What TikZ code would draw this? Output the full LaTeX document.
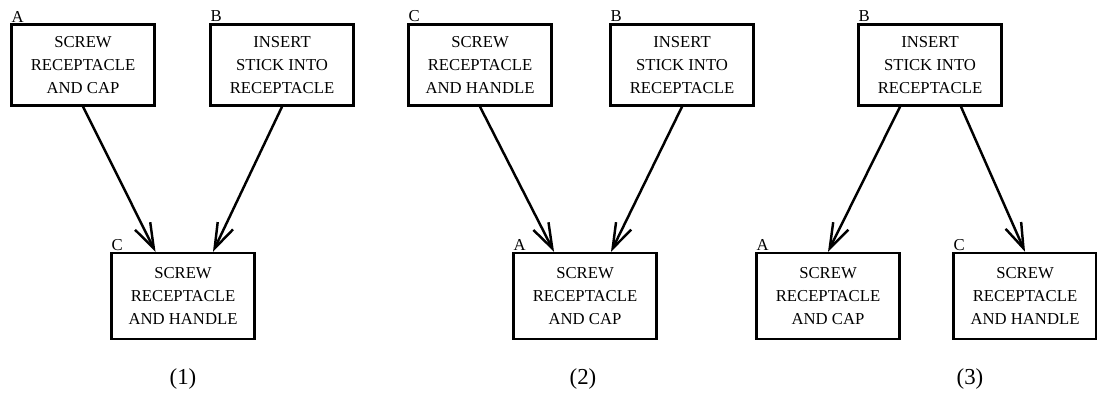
\documentclass[tikz,border=0pt]{standalone}
\usepackage{fontspec}
\setmainfont{Liberation Serif}
\usetikzlibrary{arrows.meta, positioning}

\begin{document}
\begin{tikzpicture}[
    x=0.02cm, y=-0.02cm,
    task/.style={draw, line width=1.4pt, align=center, inner sep=1pt,
                 minimum width=2.86cm, minimum height=1.62cm,
                 font=\fontsize{9.5}{13}\selectfont},
    lowtask/.style={task, minimum height=1.72cm},
    tag/.style={anchor=south west, inner sep=0.5pt, font=\fontsize{9.5}{10}\selectfont},
    arr/.style={-{Straight Barb[length=5mm, width=3.4mm]}, line width=1.4pt},
    caption/.style={font=\fontsize{13}{15}\selectfont}
]
\useasboundingbox (0,0) rectangle (1097,402);

% --- (1) ---
\node[task, label={[tag]north west:A}] (a1) at (83,65)
    {SCREW\\RECEPTACLE\\AND CAP};
\node[task, label={[tag]north west:B}] (b1) at (282,65)
    {INSERT\\STICK INTO\\RECEPTACLE};
\node[lowtask, label={[tag]north west:C}] (c1) at (183,296)
    {SCREW\\RECEPTACLE\\AND HANDLE};
\draw[arr] (a1.south) -- ([xshift=-0.55cm]c1.north);
\draw[arr] (b1.south) -- ([xshift=0.6cm]c1.north);
\node[caption] (cap1) at (183,379) {(1)};

% --- (2) ---
\node[task, label={[tag]north west:C}] (c2) at (480,65)
    {SCREW\\RECEPTACLE\\AND HANDLE};
\node[task, label={[tag]north west:B}] (b2) at (682,65)
    {INSERT\\STICK INTO\\RECEPTACLE};
\node[lowtask, label={[tag]north west:A}] (a2) at (585,296)
    {SCREW\\RECEPTACLE\\AND CAP};
\draw[arr] (c2.south) -- ([xshift=-0.62cm]a2.north);
\draw[arr] (b2.south) -- ([xshift=0.52cm]a2.north);
\node[caption] (cap2) at (583,379) {(2)};

% --- (3) ---
\node[task, label={[tag]north west:B}] (b3) at (930,65)
    {INSERT\\STICK INTO\\RECEPTACLE};
\node[lowtask, label={[tag]north west:A}] (a3) at (828,296)
    {SCREW\\RECEPTACLE\\AND CAP};
\node[lowtask, label={[tag]north west:C}] (c3) at (1025,296)
    {SCREW\\RECEPTACLE\\AND HANDLE};
\draw[arr] ([xshift=-0.6cm]b3.south) -- (a3.north);
\draw[arr] ([xshift=0.62cm]b3.south) -- (c3.north);
\node[caption] (cap3) at (970,379) {(3)};
\end{tikzpicture}
\end{document}
